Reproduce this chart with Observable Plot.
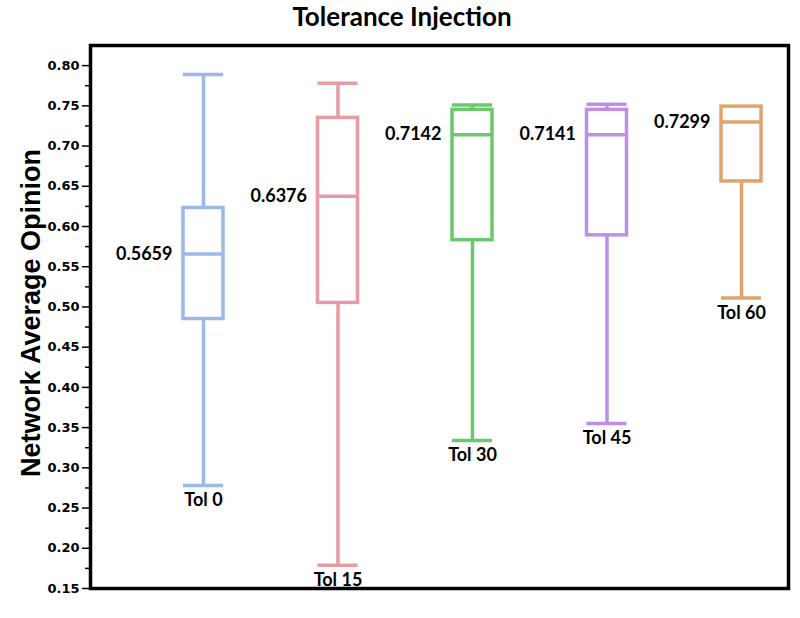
<!DOCTYPE html>
<html><head><meta charset="utf-8">
<script src="https://cdn.jsdelivr.net/npm/d3@7"></script>
<script src="https://cdn.jsdelivr.net/npm/@observablehq/plot@0.6"></script>
<style>
body{margin:0;background:#fff;}
#title{height:40px;line-height:42px;text-align:center;font:bold 26px Lato, sans-serif;color:#000;padding-left:4px;}
</style></head><body>
<div id="title">Tolerance Injection</div>
<div id="chart"></div>
<script>
const categories = ["Tol 0", "Tol 15", "Tol 30", "Tol 45", "Tol 60"];
const whiskerMin = [0.278, 0.179, 0.334, 0.355, 0.511];
const q1 = [0.485, 0.505, 0.583, 0.589, 0.656];
const median = [0.5659, 0.6376, 0.7142, 0.7141, 0.7299];
const q3 = [0.623, 0.735, 0.745, 0.745, 0.749];
const whiskerMax = [0.789, 0.778, 0.751, 0.752, 0.749];
const medianLabels = ["0.5659", "0.6376", "0.7142", "0.7141", "0.7299"];
const colors = ["#9db9e8", "#e89ba6", "#6cc870", "#c08ee8", "#dfa46c"];
const yTicks = [0.15, 0.20, 0.25, 0.30, 0.35, 0.40, 0.45, 0.50, 0.55, 0.60, 0.65, 0.70, 0.75, 0.80];
const yMinorTicks = [0.175, 0.225, 0.275, 0.325, 0.375, 0.425, 0.475, 0.525, 0.575, 0.625, 0.675, 0.725, 0.775];
const yLabel = "Network Average Opinion";

const data = categories.map((c, i) => ({
  name: c, min: whiskerMin[i], q1: q1[i], median: median[i], q3: q3[i], max: whiskerMax[i],
  label: medianLabels[i], color: colors[i]
}));

const sw = 3.5;
const chart = Plot.plot({
  width: 800, height: 578,
  marginTop: 5, marginBottom: 30, marginLeft: 90, marginRight: 12,
  style: {fontFamily: "Lato, sans-serif", background: "#fff", color: "#000"},
  x: {type: "band", domain: categories, paddingInner: 0.7026, paddingOuter: 0.446, align: 0.775, round: false, axis: null},
  y: {domain: [0.15, 0.825], axis: null},
  color: {type: "identity"},
  marks: [
    Plot.ruleX(data, {x: "name", y1: "q3", y2: "max", stroke: "color", strokeWidth: sw}),
    Plot.ruleX(data, {x: "name", y1: "min", y2: "q1", stroke: "color", strokeWidth: sw}),
    Plot.tickY(data, {x: "name", y: "max", stroke: "color", strokeWidth: sw}),
    Plot.tickY(data, {x: "name", y: "min", stroke: "color", strokeWidth: sw}),
    Plot.barY(data, {x: "name", y1: "q1", y2: "q3", fill: "white", stroke: "color", strokeWidth: sw}),
    Plot.tickY(data, {x: "name", y: "median", stroke: "color", strokeWidth: sw}),
    Plot.text(data, {x: "name", y: "median", text: "label", textAnchor: "end", dx: -31, fontSize: 18, fontWeight: "bold", fill: "#000"}),
    Plot.text(data, {x: "name", y: "min", text: "name", dy: 15, fontSize: 18, fontWeight: "bold", fill: "#000"}),
    Plot.axisY(yTicks, {tickSize: 8, tickPadding: 3, tickFormat: d => d.toFixed(2), fontSize: 13, fontWeight: "bold", fontFamily: "DejaVu Sans", strokeWidth: 1.5, label: null}),
    Plot.axisY(yMinorTicks, {tickSize: 5, tickFormat: () => "", strokeWidth: 1.5, label: null}),
    Plot.text([yLabel], {frameAnchor: "left", textAnchor: "middle", rotate: -90, dx: -59, dy: -4, fontSize: 27, fontWeight: "bold", fontFamily: "Liberation Sans, Arial, sans-serif", fill: "#000"}),
    Plot.frame({stroke: "#000", strokeWidth: 3.5})
  ]
});
document.getElementById("chart").appendChild(chart);
</script>
</body></html>
